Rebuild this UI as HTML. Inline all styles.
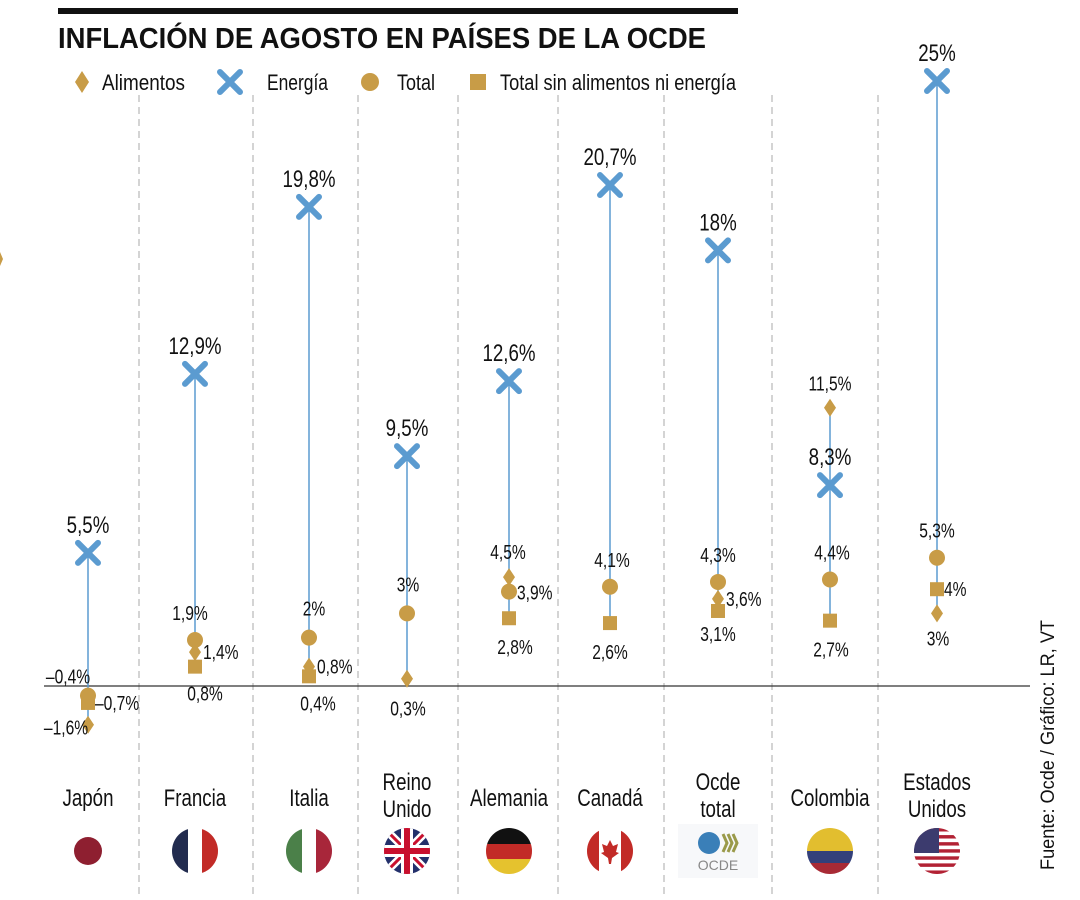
<!DOCTYPE html>
<html><head><meta charset="utf-8">
<style>
body{margin:0;background:#fff;}
svg{display:block;font-family:"Liberation Sans Narrow","Liberation Sans",sans-serif;}
</style></head>
<body>
<svg id="chart" width="1080" height="900" viewBox="0 0 1080 900">
<rect x="58" y="8" width="680" height="6" fill="#111"/>
<text x="58" y="48" font-size="29" font-weight="bold" fill="#111" textLength="648" lengthAdjust="spacingAndGlyphs">INFLACIÓN DE AGOSTO EN PAÍSES DE LA OCDE</text>
<g id="legend">
 <g><path d="M82,71 L89,82 L82,93 L75,82Z" fill="#c89c47"/><text x="102" y="90" font-size="22" fill="#111" textLength="83" lengthAdjust="spacingAndGlyphs">Alimentos</text></g>
 <g><path d="M220,72 L240,92 M240,72 L220,92" stroke="#5b9bd0" stroke-width="6" stroke-linecap="round"/><text x="267" y="90" font-size="22" fill="#111" textLength="61" lengthAdjust="spacingAndGlyphs">Energía</text></g>
 <g><circle cx="370" cy="82" r="9" fill="#c89c47"/><text x="397" y="90" font-size="22" fill="#111" textLength="38" lengthAdjust="spacingAndGlyphs">Total</text></g>
 <g><rect x="470" y="74" width="16" height="16" fill="#c89c47"/><text x="500" y="90" font-size="22" fill="#111" textLength="236" lengthAdjust="spacingAndGlyphs">Total sin alimentos ni energía</text></g>
</g>
<path d="M0,252 L3,259 L0,266Z" fill="#c89c47"/>
<g id="grid"></g>
<line x1="44" y1="686" x2="1030" y2="686" stroke="#333" stroke-width="1.2"/>
<g id="marks"></g>
<g id="names"></g>
<g id="flags"></g>
<text transform="translate(1054,870) rotate(-90)" font-size="19" fill="#111" textLength="250" lengthAdjust="spacingAndGlyphs">Fuente: Ocde / Gráfico: LR, VT</text>
</svg>
<script>
const countries=["Japón","Francia","Italia","Reino Unido","Alemania","Canadá","Ocde total","Colombia","Estados Unidos"];
const energia=[5.5,12.9,19.8,9.5,12.6,20.7,18,8.3,25];
const total=[-0.4,1.9,2,3,3.9,4.1,4.3,4.4,5.3];
const alimentos=[-1.6,1.4,0.8,0.3,4.5,null,3.6,11.5,3];
const nucleo=[-0.7,0.8,0.4,null,2.8,2.6,3.1,2.7,4];
const energiaLabels=["5,5%","12,9%","19,8%","9,5%","12,6%","20,7%","18%","8,3%","25%"];
const totalLabels=["-0,4%","1,9%","2%","3%","3,9%","4,1%","4,3%","4,4%","5,3%"];
const alimentosLabels=["-1,6%","1,4%","0,8%","0,3%","4,5%",null,"3,6%","11,5%","3%"];
const nucleoLabels=["-0,7%","0,8%","0,4%",null,"2,8%","2,6%","3,1%","2,7%","4%"];

const NS="http://www.w3.org/2000/svg";
const GOLD="#c89c47",BLUE="#5b9bd0";
const colX=[88,195,309,407,509,610,718,830,937];
const seps=[139,253,358,458,558,664,772,878];
const SX=0.78;
function x(i){return colX[i];}
function y(v){return 686-v*24.2;}
function mk(tag,attrs,parent){const e=document.createElementNS(NS,tag);for(const k in attrs)e.setAttribute(k,attrs[k]);parent.appendChild(e);return e;}
function ctext(parent,px,py,txt,size,anchor){const t=mk('text',{x:0,y:0,transform:`translate(${px},${py}) scale(${SX},1)`,"text-anchor":anchor,"font-size":size,fill:"#111"},parent);t.textContent=txt;return t;}
const totOff=[[-20,-12,"middle"],[-5,-20,"middle"],[5,-22,"middle"],[1,-22,"middle"],[8,8,"start"],[2,-20,"middle"],[0,-20,"middle"],[2,-20,"middle"],[0,-20,"middle"]];
const alOff=[[-22,10,"middle"],[8,7,"start"],[8,7,"start"],[1,37,"middle"],[-1,-18,"middle"],[0,0,"middle"],[8,7,"start"],[0,-17,"middle"],[1,32,"middle"]];
const nuOff=[[7,7,"start"],[10,34,"middle"],[9,34,"middle"],[0,0,"middle"],[6,36,"middle"],[0,36,"middle"],[0,30,"middle"],[1,36,"middle"],[7,7,"start"]];

const grid=document.getElementById('grid');
seps.forEach((sx,i)=>{const l=mk('line',{x1:sx,y1:95,x2:sx,y2:895,stroke:"#aaa","stroke-width":1,"stroke-dasharray":"7,5"},grid);

});

const marks=document.getElementById('marks');
function label(txt,px,py,off,size,name){const t=ctext(marks,px+off[0],py+off[1],txt.replace('-','–'),size,off[2]);

}
countries.forEach((c,i)=>{
 const cx=x(i);
 const vals=[energia[i],total[i],alimentos[i],nucleo[i]].filter(v=>v!==null);
 const ln=mk('line',{x1:cx,y1:y(Math.max(...vals)),x2:cx,y2:y(Math.min(...vals)),stroke:BLUE,"stroke-width":1.5},marks);
 
 
 const ey=y(energia[i]);
 const ex=mk('path',{d:`M${cx-10},${ey-10}L${cx+10},${ey+10}M${cx+10},${ey-10}L${cx-10},${ey+10}`,stroke:BLUE,"stroke-width":6,"stroke-linecap":"round"},marks);
 
 
 label(energiaLabels[i],cx,ey,[0,-20,"middle"],24,'energy-label');
 if(alimentos[i]!==null){const ay=y(alimentos[i]);
  const d=mk('path',{d:`M${cx},${ay-9}L${cx+6},${ay}L${cx},${ay+9}L${cx-6},${ay}Z`,fill:GOLD},marks);
  
  
  label(alimentosLabels[i],cx,ay,alOff[i],20,'food-label');}
 if(nucleo[i]!==null){const ny=y(nucleo[i]);
  const r=mk('rect',{x:cx-7,y:ny-7,width:14,height:14,fill:GOLD},marks);
  
  
  label(nucleoLabels[i],cx,ny,nuOff[i],20,'core-label');}
 const ty=y(total[i]);
 const ci=mk('circle',{cx:cx,cy:ty,r:8,fill:GOLD},marks);
 
 
 label(totalLabels[i],cx,ty,totOff[i],20,'total-label');
});

const names=document.getElementById('names');
countries.forEach((c,i)=>{
 const parts=c.split(' ');
 const g=mk('g',{},names);
 
 
 if(parts.length===1)ctext(g,x(i),806,c,24,"middle");
 else parts.forEach((p,j)=>ctext(g,x(i),790+j*27,p,24,"middle"));
});

const flags=document.getElementById('flags');
const defs=mk('defs',{},flags);
const F=[];
colX.forEach((cx,i)=>{const cp=mk('clipPath',{id:'fc'+i},defs);mk('circle',{cx:cx,cy:851,r:23},cp);
 const g=mk('g',{"clip-path":`url(#fc${i})`},flags);
 
 F.push(g);});
function R(g,x0,y0,w,h,f){mk('rect',{x:x0,y:y0,width:w,height:h,fill:f},g);}
let c=colX;
mk('circle',{cx:c[0],cy:851,r:14,fill:"#8e1f30"},F[0]);
R(F[1],c[1]-23,828,16,46,"#222c4f");R(F[1],c[1]-7,828,14,46,"#fff");R(F[1],c[1]+7,828,16,46,"#c22b27");
R(F[2],c[2]-23,828,16,46,"#4b8049");R(F[2],c[2]-7,828,14,46,"#fff");R(F[2],c[2]+7,828,16,46,"#a8263a");
R(F[3],c[3]-23,828,46,46,"#23306b");
mk('path',{d:`M${c[3]-23},828L${c[3]+23},874M${c[3]+23},828L${c[3]-23},874`,stroke:"#fff","stroke-width":8},F[3]);
mk('path',{d:`M${c[3]-23},828L${c[3]+23},874M${c[3]+23},828L${c[3]-23},874`,stroke:"#c8102e","stroke-width":3},F[3]);
R(F[3],c[3]-23,845,46,12,"#fff");R(F[3],c[3]-6,828,12,46,"#fff");
R(F[3],c[3]-23,848,46,6,"#c8102e");R(F[3],c[3]-3,828,6,46,"#c8102e");
R(F[4],c[4]-23,828,46,16,"#111");R(F[4],c[4]-23,844,46,15,"#c22b27");R(F[4],c[4]-23,859,46,15,"#e5c22e");
R(F[5],c[5]-23,828,12,46,"#c22b27");R(F[5],c[5]-11,828,22,46,"#fff");R(F[5],c[5]+11,828,12,46,"#c22b27");
mk('path',{d:`M${c[5]},840L${c[5]+3},846L${c[5]+8},844L${c[5]+6},852L${c[5]+9},853L${c[5]+2},858L${c[5]+1},864L${c[5]-1},864L${c[5]-2},858L${c[5]-9},853L${c[5]-6},852L${c[5]-8},844L${c[5]-3},846Z`,fill:"#c22b27"},F[5]);
const og=mk('g',{},flags);
R(og,c[6]-40,824,80,54,"#f7f8fa");
mk('circle',{cx:c[6]-9,cy:843,r:11,fill:"#3a7fb8"},og);
mk('path',{d:`M${c[6]+5},834l4,9l-4,9M${c[6]+10},834l4,9l-4,9M${c[6]+15},834l4,9l-4,9`,stroke:"#9a9a4a","stroke-width":3,fill:"none"},og);
const ot=mk('text',{x:c[6],y:870,"text-anchor":"middle","font-size":14,fill:"#888","font-family":"Liberation Sans, sans-serif"},og);ot.textContent="OCDE";
R(F[7],c[7]-23,828,46,23,"#e2be2f");R(F[7],c[7]-23,851,46,12,"#33407a");R(F[7],c[7]-23,863,46,11,"#a82a35");
for(let k=0;k<13;k++)R(F[8],c[8]-23,828+k*46/13,46,46/13,k%2?"#fff":"#b22234");
R(F[8],c[8]-23,828,25,25,"#3c3b6e");
</script>
</body></html>
